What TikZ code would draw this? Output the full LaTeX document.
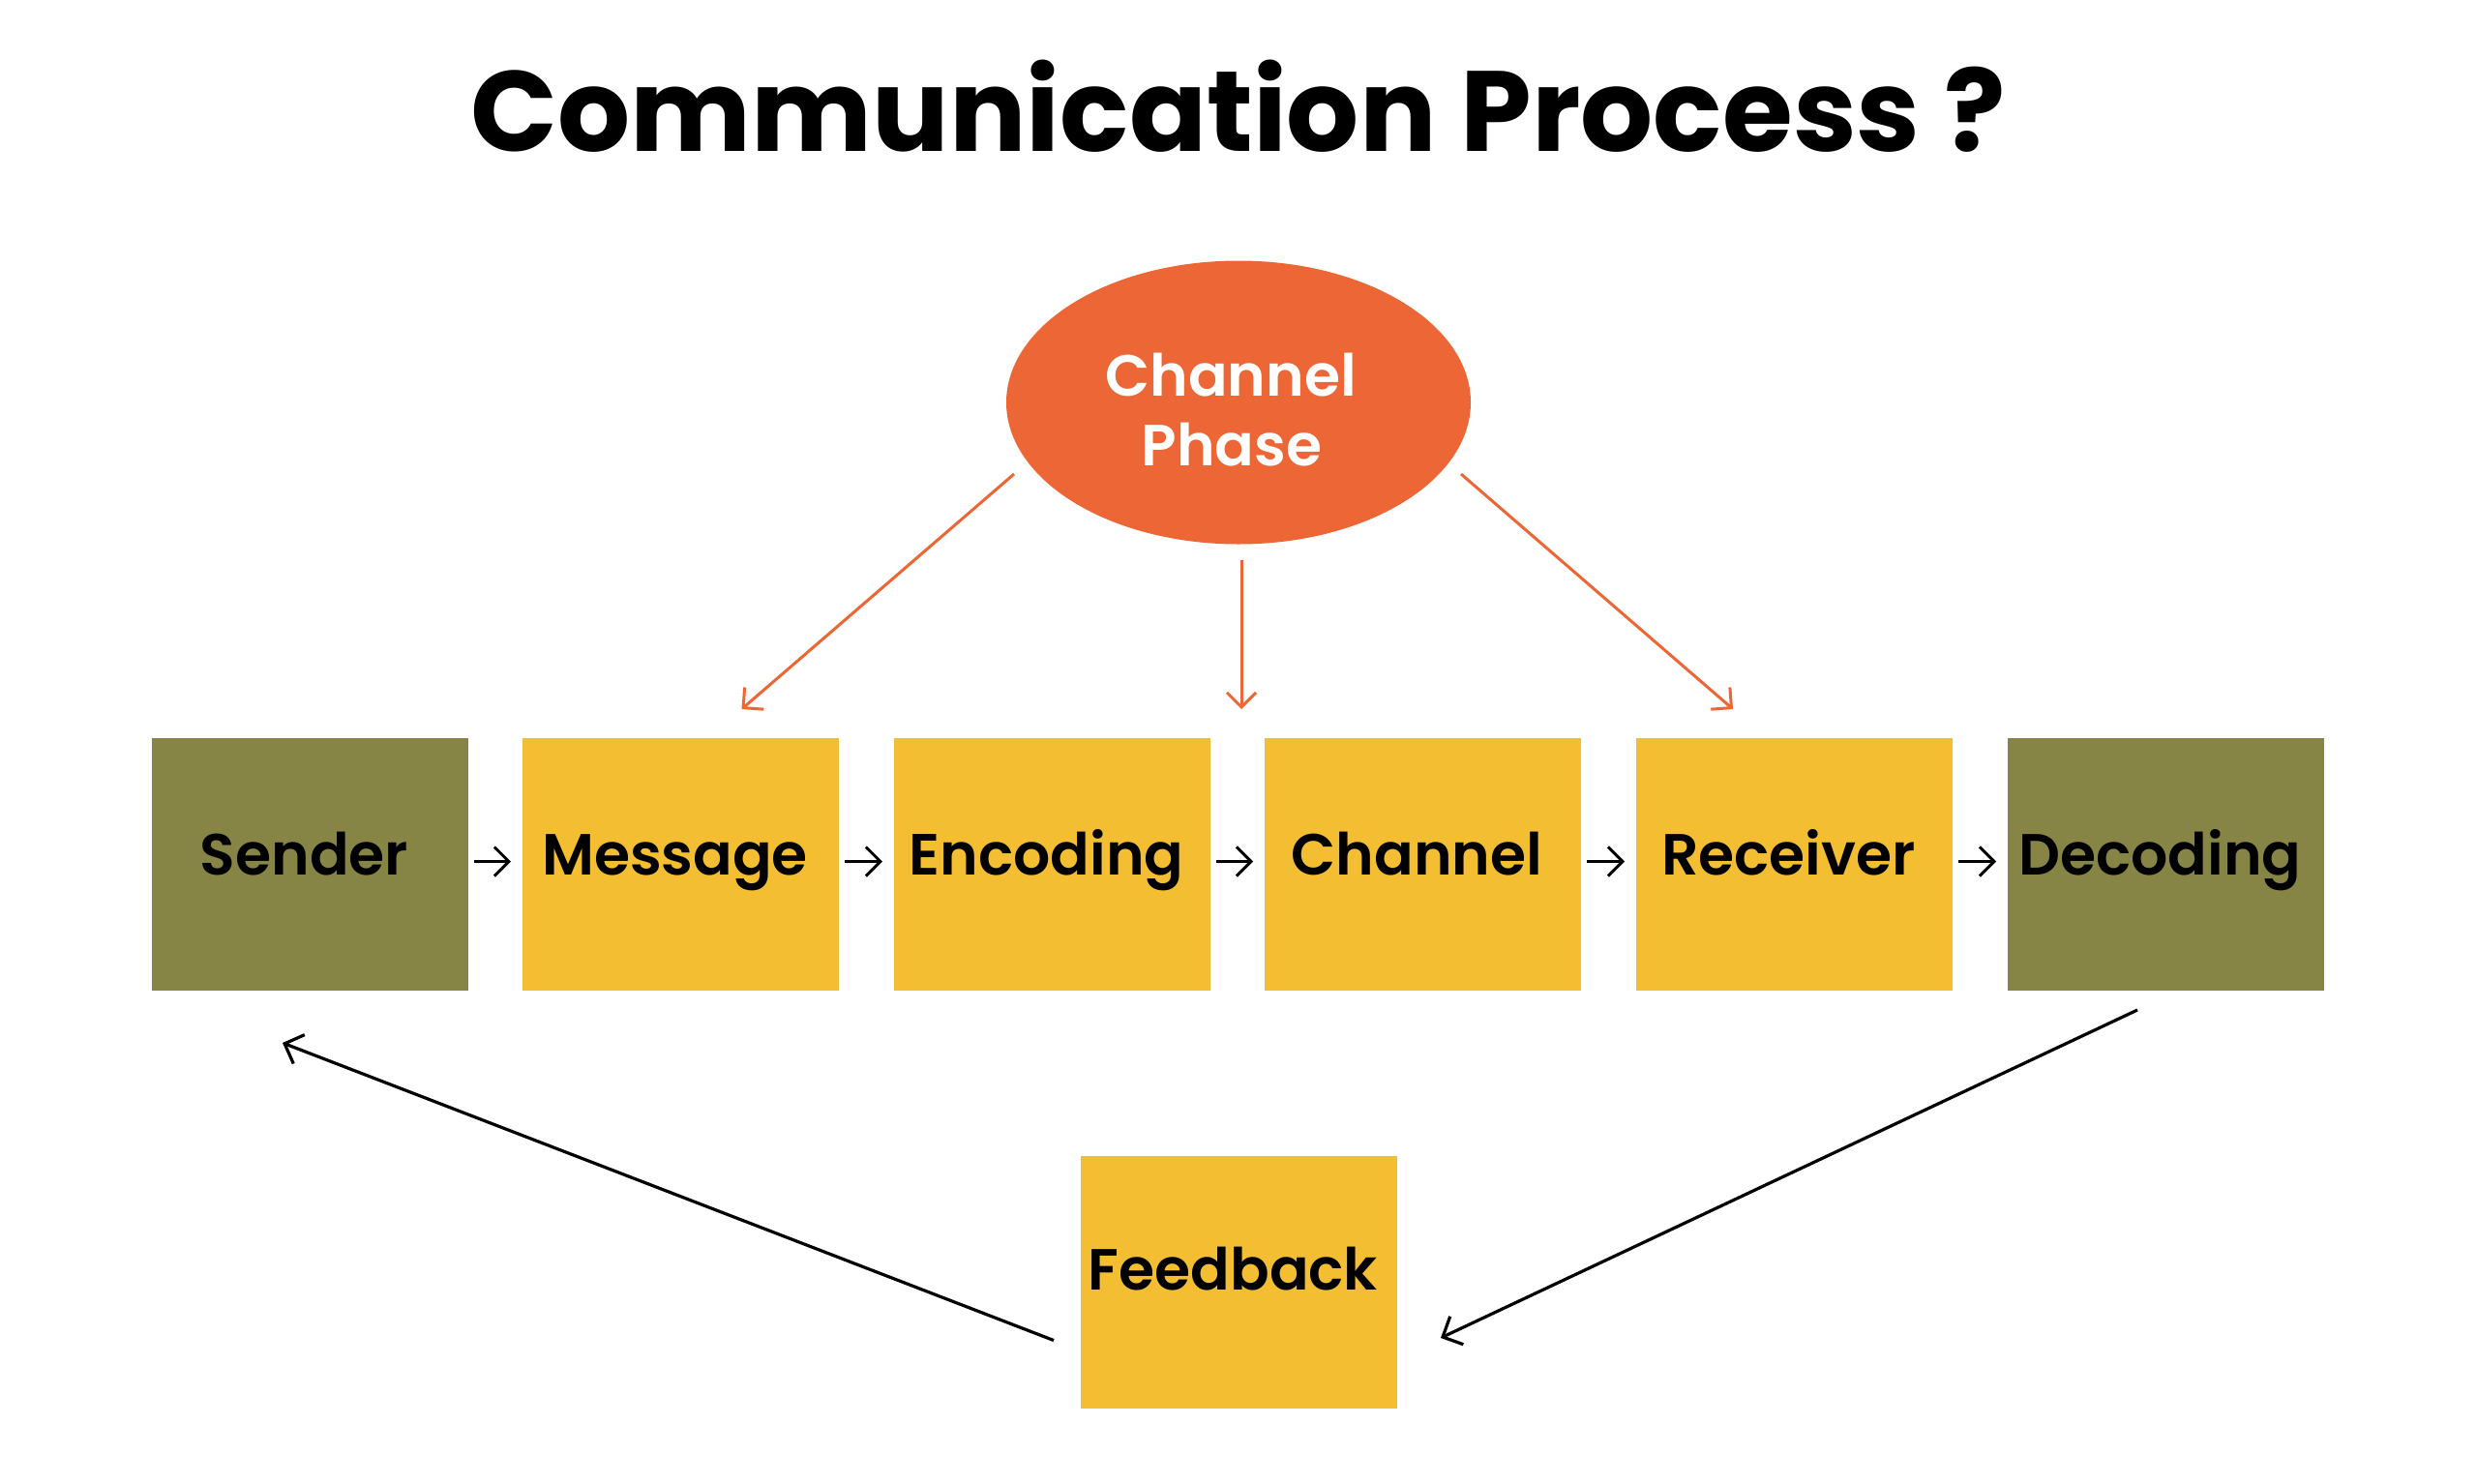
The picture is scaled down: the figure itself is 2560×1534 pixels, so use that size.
\documentclass[tikz,border=0pt]{standalone}
\usepackage{fontspec}
\setmainfont{Poppins}
\newfontfamily\psemi{Poppins SemiBold}
\usetikzlibrary{arrows.meta,shapes.geometric}
\definecolor{cOlive}{HTML}{878545}
\definecolor{cYellow}{HTML}{F4BE33}
\definecolor{cOrange}{HTML}{EC6735}
\begin{document}
\begin{tikzpicture}[x=1pt,y=-1pt,
  box/.style={minimum width=327pt,minimum height=261pt,inner sep=0pt,outer sep=0pt,anchor=north west},
  lbl/.style={font=\psemi\fontsize{60}{72}\selectfont,text=black,anchor=base,inner sep=0pt},
  plbl/.style={font=\psemi\fontsize{60}{72}\selectfont,text=white,anchor=base,inner sep=0pt},
  flow/.style={draw=black,line width=3pt,-{Straight Barb[length=15pt,width=30pt]}},
  fb/.style={draw=black,line width=3.2pt,-{Straight Barb[length=16pt,width=32pt]}},
  ph/.style={draw=cOrange,line width=3pt,-{Straight Barb[length=15pt,width=30pt]}}
]
\useasboundingbox[fill=white] (0,0) rectangle (2560,1534);

\node[font=\bfseries\fontsize{118}{128}\selectfont,anchor=base,inner sep=0pt] (title) at (1280,156) {Communication Process ?};

\node[ellipse,fill=cOrange,minimum width=480pt,minimum height=293pt,inner sep=0pt] (phase) at (1280,416) {};
\node[plbl] (ph1) at (1272,409) {Channel};
\node[plbl] (ph2) at (1273,481) {Phase};

\node[box,fill=cOlive]  (sender)   at (157,763) {};
\node[box,fill=cYellow] (message)  at (540,763) {};
\node[box,fill=cYellow] (encoding) at (924,763) {};
\node[box,fill=cYellow] (channel)  at (1307,763) {};
\node[box,fill=cYellow] (receiver) at (1691,763) {};
\node[box,fill=cOlive]  (decoding) at (2075,763) {};
\node[box,fill=cYellow] (feedback) at (1117,1195) {};

\foreach \n/\t in {sender/Sender,message/Message,encoding/Encoding,channel/Channel,receiver/Receiver,decoding/Decoding}{
  \node[lbl] (\n-t) at ([xshift=-6pt,yshift=-10.5pt]\n.center) {\t};
}
\node[lbl] (feedback-t) at ([xshift=-6pt,yshift=-8pt]feedback.center) {Feedback};

\foreach \a/\b in {sender/message,message/encoding,encoding/channel,channel/receiver,receiver/decoding}{
  \draw[flow] ([xshift=6pt,yshift=3pt]\a.east) -- ([xshift=-12pt,yshift=3pt]\b.west);
}

\draw[ph] ([shift={(-232,74)}]phase.center) -- ([shift={(63,-30)}]message.north);
\draw[ph] ([shift={(3,16)}]phase.south) -- ([shift={(32,-30)}]encoding.north east);
\draw[ph] ([shift={(230,74)}]phase.center) -- ([shift={(-63.5,-30)}]receiver.north);

\draw[fb] ([shift={(-28,60)}]feedback.west) -- ([shift={(-28.5,54)}]sender.south);
\draw[fb] ([shift={(-29.5,20)}]decoding.south) -- ([shift={(45,57.5)}]feedback.east);
\end{tikzpicture}
\end{document}
